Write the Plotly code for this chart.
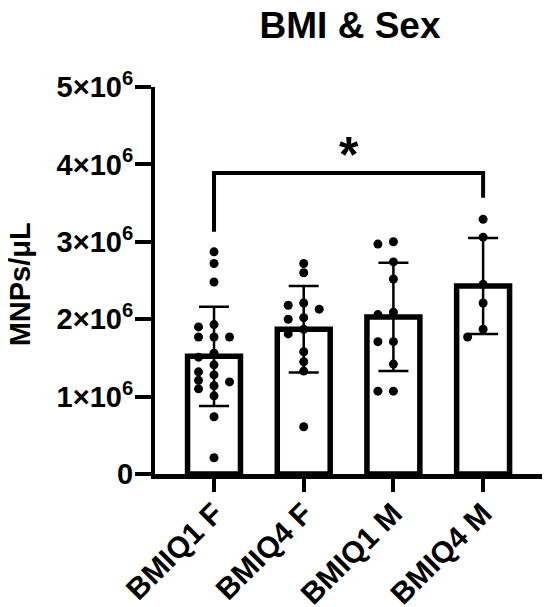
import plotly.graph_objects as go

# ---------------- data ----------------
categories = ["BMIQ1 F", "BMIQ4 F", "BMIQ1 M", "BMIQ4 M"]
bar_means = [1.52e6, 1.87e6, 2.03e6, 2.43e6]
bar_sd = [0.64e6, 0.56e6, 0.70e6, 0.62e6]

bmiq1_f = [2.87, 2.72, 2.48, 1.93, 1.90, 1.77, 1.77, 1.77, 1.56, 1.51,
           1.41, 1.32, 1.28, 1.21, 1.19, 1.14, 1.10, 1.01, 0.74, 0.21]
bmiq4_f = [2.72, 2.60, 2.21, 2.18, 2.13, 2.02, 2.00, 1.87, 1.81, 1.58,
           1.45, 1.33, 0.61]
bmiq1_m = [3.00, 2.97, 2.74, 2.52, 2.09, 2.06, 1.71, 1.71, 1.42, 1.07, 1.07]
bmiq4_m = [3.29, 3.06, 2.45, 2.21, 1.87, 1.77]
points_scale = 1e6

ytick_vals = [0, 1e6, 2e6, 3e6, 4e6, 5e6]
ytick_text = ["0", "1×10<sup>6</sup>", "2×10<sup>6</sup>", "3×10<sup>6</sup>",
              "4×10<sup>6</sup>", "5×10<sup>6</sup>"]

sig_pair = (0, 3)
sig_label = "*"

# ---------------- layout constants ----------------
# the page body adds an 8px offset; the figure is sized to fill the rest
OFF = 8
W, H = 550 - OFF, 607 - OFF
ML, MR, MT, MB = 155 - OFF, 5, 87 - OFF, 133
XR = [-0.658, 3.69]
YR = [0, 5e6]
px_per_x = (W - ML - MR) / (XR[1] - XR[0])
px_per_y = (H - MT - MB) / (YR[1] - YR[0])

FONT = "Liberation Sans, Arial, Helvetica, sans-serif"


def swarm(vals, center, step_px=15.5, min_dist=8.5):
    placed, xs = [], []
    for v in vals:
        yp = v * points_scale * px_per_y
        for k in [0, -1, 1, -2, 2, -3, 3]:
            xp = k * step_px
            if all((xp - a) ** 2 + (yp - b) ** 2 >= min_dist ** 2 for a, b in placed):
                break
        placed.append((xp, yp))
        xs.append(center + xp / px_per_x)
    return xs


groups = [bmiq1_f, bmiq4_f, bmiq1_m, bmiq4_m]
xpos = list(range(len(categories)))

fig = go.Figure()

fig.add_trace(go.Bar(
    x=xpos, y=bar_means, width=0.59,
    marker=dict(color="white", line=dict(color="black", width=5.5)),
    showlegend=False, hoverinfo="skip",
))

for i, g in enumerate(groups):
    fig.add_trace(go.Scatter(
        x=swarm(g, xpos[i]), y=[v * points_scale for v in g],
        mode="markers", marker=dict(color="black", size=9),
        showlegend=False, cliponaxis=False,
    ))

fig.add_trace(go.Scatter(
    x=xpos, y=bar_means, mode="markers",
    marker=dict(size=1, color="rgba(0,0,0,0)"),
    error_y=dict(type="data", array=bar_sd, visible=True,
                 color="black", thickness=2.5, width=15),
    showlegend=False, hoverinfo="skip",
))

# significance bracket
x0, x1 = sig_pair
fig.add_shape(type="path",
              path=f"M {x0} 3.13e6 L {x0} 3.89e6 L {x1} 3.89e6 L {x1} 3.57e6",
              xref="x", yref="y", line=dict(color="black", width=4))
fig.add_annotation(x=(x0 + x1) / 2, y=4.12e6, xref="x", yref="y",
                   text=sig_label, showarrow=False, xanchor="center", yanchor="middle",
                   font=dict(family=FONT, size=50, color="black", weight="bold"))

# y axis title
fig.add_annotation(x=-(155 - 20) / (W - ML - MR), y=0.49, xref="paper", yref="paper",
                   text="<b>MNPs/μL</b>", textangle=-90, showarrow=False,
                   xanchor="center", yanchor="middle",
                   font=dict(family=FONT, size=29, color="black", weight="bold"))

fig.update_layout(
    width=W, height=H,
    margin=dict(l=ML, r=MR, t=MT, b=MB, autoexpand=False),
    paper_bgcolor="white", plot_bgcolor="white",
    title=dict(text="BMI & Sex", x=0.5, xref="paper", y=1 - (25 - OFF) / H, yanchor="middle",
               font=dict(family=FONT, size=37, color="black", weight="bold")),
    xaxis=dict(range=XR, tickvals=xpos, ticktext=categories, tickangle=-45,
               automargin=False, ticklabelstandoff=-8,
               showline=True, linecolor="black", linewidth=5, showgrid=False,
               zeroline=False, ticks="outside", ticklen=13, tickwidth=4,
               tickcolor="black",
               tickfont=dict(family=FONT, size=30, color="black", weight="bold")),
    yaxis=dict(range=YR, tickvals=ytick_vals, ticktext=ytick_text,
               automargin=False, ticklabelstandoff=-4,
               showline=True, linecolor="black", linewidth=4, showgrid=False,
               zeroline=False, ticks="outside", ticklen=16, tickwidth=4,
               tickcolor="black",
               tickfont=dict(family=FONT, size=29, color="black", weight="bold")),
)

fig.write_html("out.html")
